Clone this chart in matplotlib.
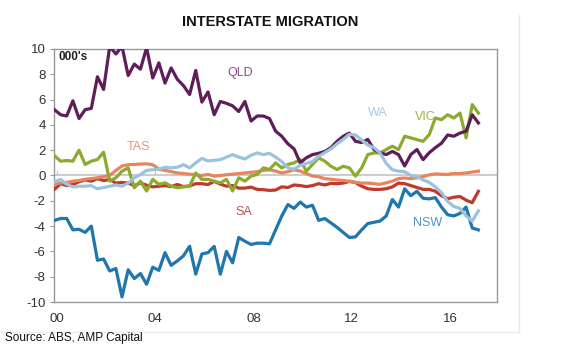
import numpy as np
import matplotlib
matplotlib.use("Agg")
import matplotlib.pyplot as plt
from matplotlib.lines import Line2D

plt.rcParams['font.family'] = ['Liberation Sans', 'DejaVu Sans']

# ---- data (000's, quarterly) ----
start_year = 1999.9
qld = [5.2, 4.8, 4.7, 5.9, 4.5, 5.2, 5.3, 7.8, 6.8, 10.2,
       9.6, 10.2, 7.9, 8.8, 8.4, 10.1, 7.7, 8.9, 7.3, 8.5,
       7.6, 7.1, 6.4, 8.3, 5.8, 6.6, 4.8, 5.85, 5.7, 5.5,
       5.05, 5.85, 4.3, 4.7, 4.7, 4.5, 3.5, 3.1, 2.5, 2.1,
       1.0, 1.4, 1.65, 1.75, 1.9, 2.2, 2.7, 3.1, 3.35, 2.7,
       2.6, 2.85, 2.05, 1.8, 1.65, 1.9, 1.65, 0.75, 1.65, 2.05,
       1.25, 1.8, 2.2, 2.55, 3.2, 3.1, 3.35, 3.5, 4.8, 4.15]
nsw = [-3.55, -3.4, -3.4, -4.3, -4.25, -4.5, -4.0, -6.7, -6.6, -7.55,
       -7.35, -9.6, -7.45, -8.15, -7.75, -8.6, -7.25, -7.5, -6.1, -7.1,
       -6.75, -6.35, -5.6, -7.8, -6.2, -6.1, -5.6, -7.8, -6.0, -6.9,
       -4.9, -5.2, -5.45, -5.35, -5.35, -5.4, -4.3, -3.2, -2.3, -2.6,
       -2.1, -2.5, -2.35, -3.55, -3.4, -3.75, -4.1, -4.5, -4.9, -4.85,
       -4.3, -3.8, -3.7, -3.6, -3.2, -1.9, -2.5, -1.05, -1.6, -1.25,
       -1.8, -1.85, -1.75, -2.5, -3.1, -3.2, -3.0, -2.5, -4.15, -4.3]
vic = [1.57, 1.13, 1.18, 1.13, 2.0, 0.87, 1.13, 1.26, 1.84, -0.45,
       -0.18, 0.34, 0.6, -0.97, -0.45, -1.23, -0.31, -0.7, -0.58, -0.84,
       -0.97, -0.9, -0.84, 0.2, -0.31, -0.31, -0.45, -0.58, -0.31, -1.23,
       -0.18, -0.45, -0.05, 0.08, 0.6, 0.47, 1.0, 0.6, 0.87, 1.0,
       1.26, 0.34, 0.87, 1.39, 1.13, 0.73, 0.47, 0.73, 0.6, -0.05,
       0.6, 1.65, 1.78, 1.78, 2.05, 2.31, 2.05, 3.1, 2.97, 2.83,
       2.7, 3.23, 4.54, 4.41, 4.8, 4.54, 4.93, 2.97, 5.6, 4.93]
wa = [-0.52, -0.31, -0.7, -0.9, -0.85, -0.85, -0.8, -1.05, -0.95, -0.85,
      -0.75, -0.85, -0.6, -0.18, 0.08, 0.4, 0.45, 0.5, 0.65, 0.6,
      0.65, 0.85, 0.6, 1.0, 1.35, 1.15, 1.2, 1.25, 1.45, 1.65,
      1.45, 1.3, 1.6, 1.78, 1.65, 1.75, 1.45, 1.1, 0.6, 0.5,
      0.8, 0.95, 1.1, 1.52, 1.8, 2.1, 2.5, 2.85, 3.25, 3.2,
      2.8, 2.4, 2.2, 1.78, 0.95, 0.45, 0.34, 0.3, 0.0, -0.1,
      -0.35, -0.55, -0.9, -1.36, -2.05, -2.45, -2.6, -3.2, -3.6, -2.8]
tas = [-0.7, -0.6, -0.55, -0.45, -0.4, -0.3, -0.25, -0.18, -0.1, 0.0,
       0.4, 0.75, 0.85, 0.87, 0.9, 0.92, 0.85, 0.5, 0.4, 0.3,
       0.2, 0.15, 0.1, 0.05, 0.0, 0.08, -0.05, 0.0, 0.05, 0.1,
       0.15, 0.2, 0.25, 0.3, 0.4, 0.45, 0.35, 0.2, 0.3, 0.45,
       0.35, 0.15, -0.05, -0.1, -0.25, -0.3, -0.35, -0.4, -0.45, -0.55,
       -0.6, -0.6, -0.65, -0.7, -0.58, -0.45, -0.25, -0.2, -0.25, -0.18,
       -0.1, 0.05, 0.12, 0.1, 0.08, 0.15, 0.15, 0.2, 0.27, 0.34]
sa = [-1.1, -0.65, -0.8, -0.71, -0.5, -0.35, -0.45, -0.25, -0.4, -0.32,
      -0.6, -0.55, -0.6, -0.8, -0.6, -0.77, -0.9, -0.85, -0.8, -0.88,
      -0.71, -0.88, -0.82, -0.65, -0.65, -0.72, -0.47, -0.68, -0.85, -0.8,
      -1.0, -1.0, -0.92, -1.1, -1.12, -1.18, -1.15, -0.9, -0.95, -0.75,
      -0.8, -0.88, -0.8, -0.65, -0.75, -0.62, -0.65, -0.6, -0.47, -0.56,
      -0.85, -1.05, -1.1, -1.1, -1.05, -0.9, -0.6, -0.65, -0.8, -0.95,
      -1.1, -1.1, -1.25, -1.6, -1.84, -1.72, -1.66, -1.95, -2.15, -1.25]

xtick_years = [2000, 2004, 2008, 2012, 2016]
xtick_labels = ["00", "04", "08", "12", "16"]
yticks = [-10, -8, -6, -4, -2, 0, 2, 4, 6, 8, 10]

n = len(qld)
x = start_year + np.arange(n) / 4.0

fig = plt.figure(figsize=(5.8, 3.52), dpi=100)
fig.patch.set_facecolor("white")
ax = fig.add_axes([0.093, 0.142, 0.764, 0.719])

# zero line
ax.axhline(0, color="#c4c4c4", lw=1.2, zorder=1)

series = [
    (sa, "#C0392B"),
    (tas, "#E8845F"),
    (vic, "#8CAB2E"),
    (qld, "#5F1E5A"),
    (nsw, "#1F77AE"),
    (wa, "#9CC3DE"),
]
for vals, col in series:
    ax.plot(x, vals, color=col, lw=2.3, solid_joinstyle="round", zorder=3)

ax.set_xlim(1999.88, 2017.91)
ax.set_ylim(-10, 10)
ax.set_yticks(yticks)
ax.set_yticklabels([str(v) for v in yticks])
ax.set_xticks(xtick_years)
ax.set_xticklabels(xtick_labels)
ax.tick_params(axis="y", length=3, width=0.8, color="#999999", labelsize=9.5,
               labelcolor="#333333", pad=3)
ax.tick_params(axis="x", length=0, labelsize=9.5, labelcolor="#333333", pad=8)
for s in ax.spines.values():
    s.set_color("#999999")
    s.set_linewidth(1.0)

# small ticks on the zero line
sec = ax.secondary_xaxis(0.5)
sec.set_xticks(xtick_years)
sec.set_xticklabels([])
sec.tick_params(axis="x", length=3, color="#bbbbbb", labelbottom=False,
                labeltop=False, direction="out")
for s in sec.spines.values():
    s.set_visible(False)

# labels
ax.text(2000.05, 9.35, "000's", fontsize=8.5, fontweight="bold", color="#222222",
        ha="left", va="center")
ax.text(2007.45, 8.1, "QLD", fontsize=9, color="#8C4A82", ha="center", va="center")
ax.text(2013.05, 4.95, "WA", fontsize=9, color="#A9CBE3", ha="center", va="center")
ax.text(2015.0, 4.6, "VIC", fontsize=9, color="#9DB34A", ha="center", va="center")
ax.text(2003.3, 2.25, "TAS", fontsize=9, color="#E6957A", ha="center", va="center")
ax.text(2007.6, -2.85, "SA", fontsize=9, color="#C0504D", ha="center", va="center")
ax.text(2015.1, -3.75, "NSW", fontsize=9, color="#4F93C4", ha="center", va="center")

fig.text(0.466, 0.937, "INTERSTATE MIGRATION", fontsize=10.5, fontweight="bold",
         color="#111111", ha="center", va="center")
fig.text(0.009, 0.04, "Source: ABS, AMP Capital", fontsize=8.5, color="#111111",
         ha="left", va="center")

# faint outer frame
fig.add_artist(Line2D([0.895, 0.895], [0.057, 0.957], transform=fig.transFigure,
                      color="#e6e6e6", lw=1))
fig.add_artist(Line2D([0.0, 0.895], [0.057, 0.057], transform=fig.transFigure,
                      color="#eeeeee", lw=1))

fig.savefig("out.png", dpi=100, facecolor="white")
